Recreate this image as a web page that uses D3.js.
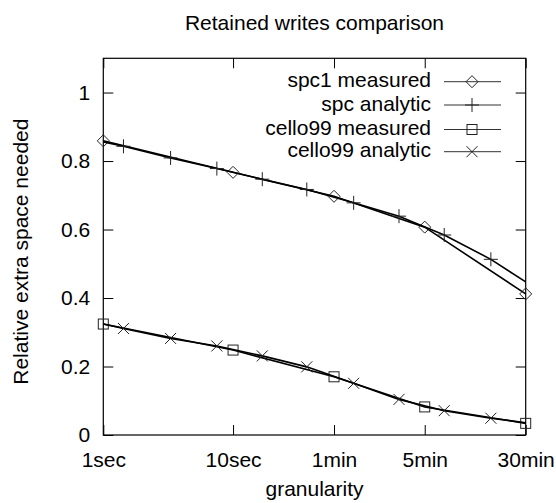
<!DOCTYPE html>
<html>
<head>
<meta charset="utf-8">
<script src="https://cdn.jsdelivr.net/npm/d3@7"></script>
<style>
body { margin: 0; background: #fff; }
text { font-family: "Liberation Sans", Arial, sans-serif; fill: #000; }
</style>
</head>
<body>
<script>
// granularity in seconds, log scale
var tickValues = [1, 10, 60, 300, 1800];
var tickLabels = ["1sec", "10sec", "1min", "5min", "30min"];
var yTicks = [0, 0.2, 0.4, 0.6, 0.8, 1];

// measured runs
var measuredX = [1, 10, 60, 300, 1800];
var spc1Measured = [0.859, 0.767, 0.697, 0.607, 0.412];
var celloMeasured = [0.324, 0.248, 0.170, 0.082, 0.034];

// analytic curves (first and last points carry no marker)
var analyticX = [1, 1.43, 3.3, 7.5, 16.8, 37, 85, 190, 424, 970, 1800];
var spcAnalytic = [0.856, 0.843, 0.809, 0.778, 0.747, 0.717, 0.678, 0.639, 0.584, 0.513, 0.447];
var celloAnalytic = [0.324, 0.311, 0.282, 0.260, 0.231, 0.199, 0.151, 0.104, 0.071, 0.049, 0.036];

var seriesNames = ["spc1 measured", "spc analytic", "cello99 measured", "cello99 analytic"];

var width = 556, height = 503;
var plotL = 103.3, plotR = 525.7, plotT = 58.3, plotB = 435;

var svg = d3.select("body").append("svg")
  .attr("width", width)
  .attr("height", height);

var x = d3.scaleLog().domain([1, 1800]).range([plotL, plotR]);
var y = d3.scaleLinear().domain([0, 1.1]).range([plotB, plotT]);

// axes, ticks pointing inward, mirrored on top/right
svg.append("g")
  .attr("transform", "translate(0," + plotB + ")")
  .call(d3.axisBottom(x).tickValues(tickValues)
    .tickFormat(function(d, i){ return tickLabels[i]; })
    .tickSize(-10).tickPadding(17));
svg.append("g")
  .attr("transform", "translate(0," + plotT + ")")
  .call(d3.axisTop(x).tickValues(tickValues).tickFormat("").tickSize(-10));
svg.append("g")
  .attr("transform", "translate(" + plotL + ",0)")
  .call(d3.axisLeft(y).tickValues(yTicks).tickFormat(d3.format("~g"))
    .tickSize(-10).tickPadding(13));
svg.append("g")
  .attr("transform", "translate(" + plotR + ",0)")
  .call(d3.axisRight(y).tickValues(yTicks).tickFormat("").tickSize(-10));

svg.selectAll(".domain").remove();
svg.selectAll(".tick line").attr("stroke", "#000").attr("stroke-width", 1);
svg.selectAll(".tick text").attr("font-size", 21).attr("fill", "#000")
  .style("font-family", "'Liberation Sans', Arial, sans-serif");

svg.append("rect")
  .attr("x", plotL).attr("y", plotT)
  .attr("width", plotR - plotL).attr("height", plotB - plotT)
  .attr("fill", "none").attr("stroke", "#000").attr("stroke-width", 1.2);

// titles
svg.append("text")
  .attr("x", (plotL + plotR) / 2).attr("y", 29.5)
  .attr("text-anchor", "middle").attr("font-size", 21)
  .text("Retained writes comparison");
svg.append("text")
  .attr("x", (plotL + plotR) / 2).attr("y", 496)
  .attr("text-anchor", "middle").attr("font-size", 21)
  .text("granularity");
svg.append("text")
  .attr("transform", "translate(28," + ((plotT + plotB) / 2 + 5) + ") rotate(-90)")
  .attr("text-anchor", "middle").attr("font-size", 21)
  .text("Relative extra space needed");

// marker shapes
var markers = {
  diamond: function(g, cx, cy){
    g.append("path").attr("d", "M" + (cx - 6) + "," + cy + "L" + cx + "," + (cy - 6) +
      "L" + (cx + 6) + "," + cy + "L" + cx + "," + (cy + 6) + "Z");
  },
  plus: function(g, cx, cy){
    g.append("path").attr("d", "M" + (cx - 7) + "," + cy + "H" + (cx + 7) +
      "M" + cx + "," + (cy - 7) + "V" + (cy + 7));
  },
  square: function(g, cx, cy){
    g.append("rect").attr("x", cx - 5).attr("y", cy - 5).attr("width", 10).attr("height", 10);
  },
  cross: function(g, cx, cy){
    g.append("path").attr("d", "M" + (cx - 5.5) + "," + (cy - 5.5) + "L" + (cx + 5.5) + "," + (cy + 5.5) +
      "M" + (cx - 5.5) + "," + (cy + 5.5) + "L" + (cx + 5.5) + "," + (cy - 5.5));
  }
};

var series = [
  {xs: measuredX, ys: spc1Measured, shape: "diamond", skipEnds: false},
  {xs: analyticX, ys: spcAnalytic, shape: "plus", skipEnds: true},
  {xs: measuredX, ys: celloMeasured, shape: "square", skipEnds: false},
  {xs: analyticX, ys: celloAnalytic, shape: "cross", skipEnds: true}
];

var line = d3.line()
  .x(function(d){ return x(d[0]); })
  .y(function(d){ return y(d[1]); });

series.forEach(function(s){
  var pts = s.xs.map(function(v, i){ return [v, s.ys[i]]; });
  svg.append("path")
    .datum(pts)
    .attr("d", line)
    .attr("fill", "none").attr("stroke", "#000").attr("stroke-width", 1.6);
  var g = svg.append("g").attr("fill", "none").attr("stroke", "#222").attr("stroke-width", 1);
  pts.forEach(function(p, i){
    if (s.skipEnds && (i === 0 || i === pts.length - 1)) return;
    markers[s.shape](g, x(p[0]), y(p[1]));
  });
});

// legend
var legendRows = [81.7, 105, 129.5, 151.7];
var legend = svg.append("g");
seriesNames.forEach(function(name, i){
  var ly = legendRows[i];
  legend.append("text")
    .attr("x", 431).attr("y", ly + 5.5)
    .attr("text-anchor", "end").attr("font-size", 21)
    .text(name);
  legend.append("line")
    .attr("x1", 444).attr("x2", 501).attr("y1", ly).attr("y2", ly)
    .attr("stroke", "#333").attr("stroke-width", 1);
  var g = legend.append("g").attr("fill", "none").attr("stroke", "#222").attr("stroke-width", 1);
  markers[series[i].shape](g, 472, ly);
});
</script>
</body>
</html>
